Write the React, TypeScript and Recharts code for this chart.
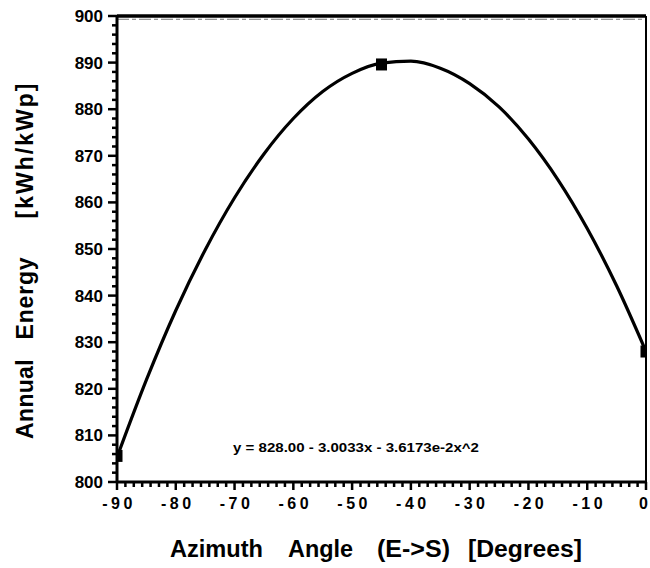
import { ComposedChart, Line, Scatter, XAxis, YAxis, ReferenceLine, Customized } from "recharts";

// azimuth angle (deg) sampled along the fitted curve
const curveAngles = [-90, -85, -80, -75, -70, -65, -60, -55, -50, -45, -40, -35, -30, -25, -20, -15, -10, -5, 0];
// annual energy (kWh/kWp)
const curveEnergy = [805.3, 821.9, 836.8, 849.8, 861.0, 870.4, 878.0, 883.8, 887.7, 889.9, 890.3, 888.8, 885.5, 880.5, 873.6, 864.9, 854.4, 842.1, 828.0];

// measured points (square markers)
const measuredAngles = [-90, -45, 0];
const measuredEnergy = [805.6, 889.6, 828.0];

const xMajorTicks = [-90, -80, -70, -60, -50, -40, -30, -20, -10, 0];
const yMajorTicks = [800, 810, 820, 830, 840, 850, 860, 870, 880, 890, 900];

const FONT = "'Liberation Sans', Arial, Helvetica, sans-serif";

const curve = curveAngles.map((a, i) => ({ angle: a, energy: curveEnergy[i] }));
const measured = measuredAngles.map((a, i) => ({ angle: a, energy: measuredEnergy[i] }));

// minor ticks between the labelled ones
const xTicks: number[] = [];
for (let i = 0; i < xMajorTicks.length - 1; i++) {
  for (let k = 0; k < 7; k++) xTicks.push(xMajorTicks[i] + (k * 10) / 7);
}
xTicks.push(0);
const yTicks: number[] = [];
for (let i = 0; i < yMajorTicks.length - 1; i++) {
  for (let k = 0; k < 5; k++) yTicks.push(yMajorTicks[i] + k * 2);
}
yTicks.push(900);

const isMajor = (v: number) => Math.abs(v / 10 - Math.round(v / 10)) < 1e-6;

function XTick(props: any) {
  const { x, y, payload } = props;
  const major = isMajor(payload.value);
  const v = Math.round(payload.value);
  return (
    <g>
      <line x1={x} x2={x} y1={y} y2={y + (major ? 8 : 5)} stroke="#000" strokeWidth={2.5} />
      {major && (
        <text
          x={x + 2}
          y={y + 27}
          textAnchor={v === 0 ? "end" : "middle"}
          fontFamily={FONT}
          fontWeight="bold"
          fontSize={16}
          letterSpacing={v === 0 ? 0 : 3.5}
          fill="#000"
        >
          {v}
        </text>
      )}
    </g>
  );
}

function YTick(props: any) {
  const { x, y, payload } = props;
  const major = isMajor(payload.value);
  return (
    <g>
      <line x1={x} x2={x - (major ? 9 : 5)} y1={y} y2={y} stroke="#000" strokeWidth={2.5} />
      {major && (
        <text x={x - 14} y={y + 6} textAnchor="end" fontFamily={FONT} fontWeight="bold" fontSize={17} fill="#000">
          {payload.value}
        </text>
      )}
    </g>
  );
}

function SquareDot(props: any) {
  const { cx, cy } = props;
  return <rect x={cx - 5.5} y={cy - 6} width={11} height={12} fill="#000" />;
}

function Annotations() {
  return (
    <g fontFamily={FONT} fontWeight="bold" fill="#000">
      {/* y axis title, word by word */}
      <text x={33} y={399} transform="rotate(-90 33 399)" textAnchor="middle" fontSize={23} letterSpacing={0.3}>
        Annual
      </text>
      <text x={33} y={298} transform="rotate(-90 33 298)" textAnchor="middle" fontSize={23} letterSpacing={0.8}>
        Energy
      </text>
      <text x={33} y={150} transform="rotate(-90 33 150)" textAnchor="middle" fontSize={23} letterSpacing={2}>
        [kWh/kWp]
      </text>
      {/* x axis title */}
      <text x={170} y={557} fontSize={23} textLength={93} lengthAdjust="spacingAndGlyphs">
        Azimuth
      </text>
      <text x={288} y={557} fontSize={23} textLength={65} lengthAdjust="spacingAndGlyphs">
        Angle
      </text>
      <text x={377} y={557} fontSize={23} textLength={73} lengthAdjust="spacingAndGlyphs">
        (E-&gt;S)
      </text>
      <text x={468} y={557} fontSize={23} textLength={114} lengthAdjust="spacingAndGlyphs">
        [Degrees]
      </text>
      {/* fit equation */}
      <text x={233} y={452} fontSize={13} textLength={246} lengthAdjust="spacingAndGlyphs">
        y = 828.00 - 3.0033x - 3.6173e-2x^2
      </text>
    </g>
  );
}

export default function App() {
  return (
    <div style={{ position: "absolute", left: 0, top: 0, width: 650, height: 568, background: "#fff" }}>
      <ComposedChart width={650} height={568} margin={{ top: 16, right: 4, bottom: 0, left: 0 }}>
        <XAxis
          dataKey="angle"
          type="number"
          domain={[-90, 0]}
          ticks={xTicks}
          interval={0}
          tickSize={0}
          tickMargin={0}
          tickLine={false}
          tick={<XTick />}
          axisLine={{ stroke: "#000", strokeWidth: 3 }}
          height={86}
          allowDataOverflow
        />
        <YAxis
          type="number"
          domain={[800, 900]}
          ticks={yTicks}
          interval={0}
          tickSize={0}
          tickMargin={0}
          tickLine={false}
          tick={<YTick />}
          axisLine={{ stroke: "#000", strokeWidth: 3 }}
          width={117}
          allowDataOverflow
        />
        <ReferenceLine y={900} stroke="#000" strokeWidth={3.5} />
        <ReferenceLine y={899.3} stroke="#777" strokeWidth={1} strokeDasharray="12 3 4 3" />
        <ReferenceLine x={0} stroke="#000" strokeWidth={2} />
        <Line data={curve} dataKey="energy" type="monotone" stroke="#000" strokeWidth={3.2} dot={false} isAnimationActive={false} />
        <Scatter data={measured} dataKey="energy" fill="#000" shape={<SquareDot />} isAnimationActive={false} />
        <Customized component={Annotations} />
      </ComposedChart>
    </div>
  );
}
